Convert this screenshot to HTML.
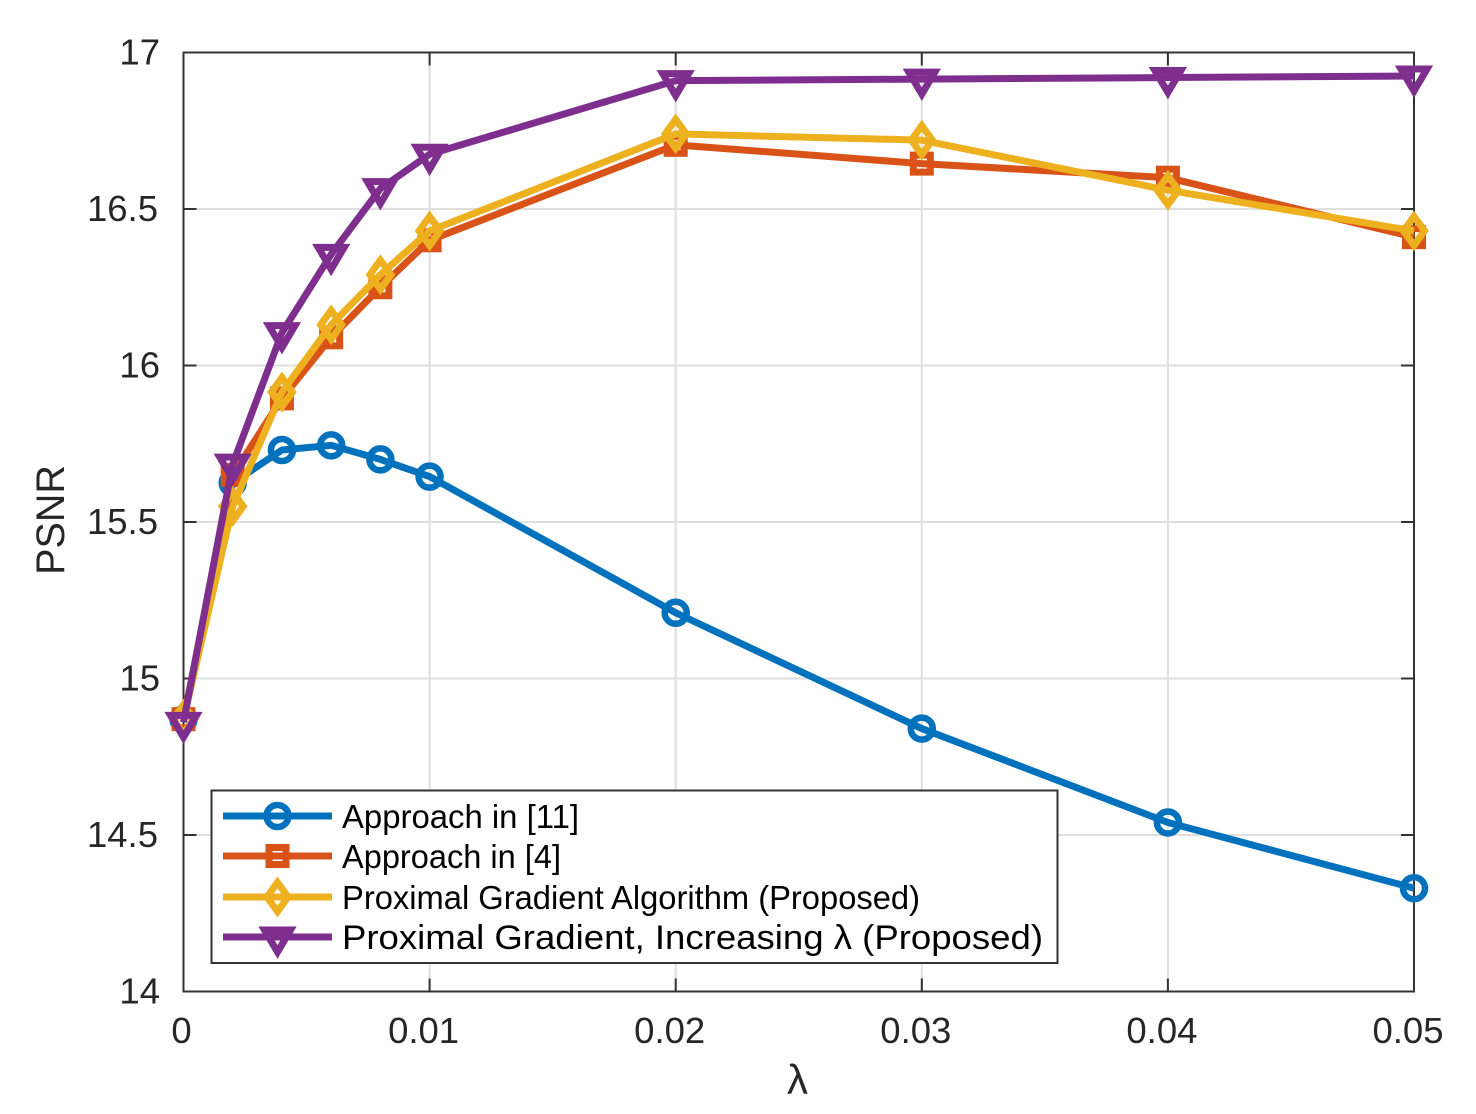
<!DOCTYPE html>
<html>
<head>
<meta charset="utf-8">
<style>
html,body{margin:0;padding:0;background:#fff;}
svg{display:block;}
text{font-family:"Liberation Sans","DejaVu Sans",sans-serif;fill:#262626;}
</style>
</head>
<body>
<svg id="chart" xmlns="http://www.w3.org/2000/svg" width="1476" height="1114" viewBox="0 0 1476 1114"></svg>
<script>
const lambdaValues = [0, 0.002, 0.004, 0.006, 0.008, 0.01, 0.02, 0.03, 0.04, 0.05];
const approach11 = [14.87, 15.625, 15.73, 15.745, 15.70, 15.645, 15.21, 14.84, 14.54, 14.33];
const approach4 = [14.87, 15.65, 15.895, 16.09, 16.25, 16.40, 16.705, 16.645, 16.60, 16.41];
const proximalGradient = [14.87, 15.55, 15.915, 16.13, 16.29, 16.43, 16.74, 16.72, 16.56, 16.43];
const proximalIncreasing = [14.86, 15.685, 16.105, 16.355, 16.565, 16.675, 16.91, 16.915, 16.92, 16.925];
const xTicks = [0, 0.01, 0.02, 0.03, 0.04, 0.05];
const yTicks = [14, 14.5, 15, 15.5, 16, 16.5, 17];
const xTickLabels = ['0', '0.01', '0.02', '0.03', '0.04', '0.05'];
const yTickLabels = ['14', '14.5', '15', '15.5', '16', '16.5', '17'];
const legendLabels = ['Approach in [11]', 'Approach in [4]', 'Proximal Gradient Algorithm (Proposed)', 'Proximal Gradient, Increasing λ (Proposed)'];

const NS = 'http://www.w3.org/2000/svg';
const svg = document.getElementById('chart');
const L = 183.5, R = 1414, T = 52.5, B = 991.5;
const xScale = v => L + (v - 0) / 0.05 * (R - L);
const yScale = v => B - (v - 14) / 3 * (B - T);

function make(tag, attrs, parent) {
  const el = document.createElementNS(NS, tag);
  for (const k in attrs) el.setAttribute(k, attrs[k]);
  (parent || svg).appendChild(el);
  return el;
}

function marker(kind, x, y, color, parent) {
  const common = {fill: 'none', stroke: color};
  let el;
  if (kind === 'circle') {
    el = make('circle', Object.assign({cx: x, cy: y, r: 11, 'stroke-width': 6.5}, common), parent);
  } else if (kind === 'square') {
    el = make('rect', Object.assign({x: x - 8.5, y: y - 8.5, width: 17, height: 17, 'stroke-width': 7}, common), parent);
  } else if (kind === 'diamond') {
    el = make('polygon', Object.assign({points: `${x},${y - 14.5} ${x + 10.5},${y} ${x},${y + 14.5} ${x - 10.5},${y}`, 'stroke-width': 7}, common), parent);
  } else {
    el = make('polygon', Object.assign({points: `${x - 13},${y - 7} ${x + 13},${y - 7} ${x},${y + 15}`, 'stroke-width': 7}, common), parent);
  }
  
  
  return el;
}

/* plot background */
const plotBg = make('rect', {x: L, y: T, width: R - L, height: B - T, fill: '#fff'});



/* grid */
const gridGroup = make('g', {stroke: '#dfdfdf', 'stroke-width': 2, fill: 'none'});


xTicks.forEach(t => {
  if (t === xTicks[0] || t === xTicks[xTicks.length - 1]) return;
  const g = make('line', {x1: xScale(t), x2: xScale(t), y1: T, y2: B}, gridGroup);
  
  
});
yTicks.forEach(t => {
  if (t === yTicks[0] || t === yTicks[yTicks.length - 1]) return;
  const g = make('line', {x1: L, x2: R, y1: yScale(t), y2: yScale(t)}, gridGroup);
  
  
});

/* axes frame and ticks */
const axesGroup = make('g', {stroke: '#333', 'stroke-width': 2, fill: 'none'});


const frame = make('rect', {x: L, y: T, width: R - L, height: B - T}, axesGroup);


xTicks.forEach(t => {
  const a = make('line', {x1: xScale(t), x2: xScale(t), y1: B, y2: B - 13}, axesGroup);
  
  
  const b = make('line', {x1: xScale(t), x2: xScale(t), y1: T, y2: T + 13}, axesGroup);
  
  
});
yTicks.forEach(t => {
  const a = make('line', {x1: L, x2: L + 13, y1: yScale(t), y2: yScale(t)}, axesGroup);
  
  
  const b = make('line', {x1: R, x2: R - 13, y1: yScale(t), y2: yScale(t)}, axesGroup);
  
  
});

/* tick labels */
xTicks.forEach((t, i) => {
  const lbl = make('text', {x: i === 0 ? xScale(t) - 2 : xScale(t) - 6, y: 1043, 'text-anchor': 'middle', 'font-size': 36.5});
  lbl.textContent = xTickLabels[i];
  
  
});
yTicks.forEach((t, i) => {
  const lbl = make('text', {x: Number.isInteger(t) ? 160 : 158, y: yScale(t) + 12, 'text-anchor': 'end', 'font-size': 36.5});
  lbl.textContent = yTickLabels[i];
  
  
});

/* axis titles */
const xTitle = make('text', {x: 797.5, y: 1094, 'text-anchor': 'middle', 'font-size': 42});
xTitle.textContent = 'λ';


const yTitle = make('text', {x: 0, y: 0, 'text-anchor': 'middle', 'font-size': 39.5, transform: 'translate(64 520) rotate(-90)'});
yTitle.textContent = 'PSNR';



/* series */
const seriesNames = ['approach-11', 'approach-4', 'proximal-gradient', 'proximal-increasing'];
const seriesValues = [approach11, approach4, proximalGradient, proximalIncreasing];
const seriesColors = ['#0072BD', '#D95319', '#EDB120', '#7E2F8E'];
const seriesMarkers = ['circle', 'square', 'diamond', 'triangle'];

seriesValues.forEach((vals, s) => {
  const g = make('g', {});
  
  
  const pts = vals.map((v, i) => xScale(lambdaValues[i]) + ',' + yScale(v)).join(' ');
  const line = make('polyline', {points: pts, fill: 'none', stroke: seriesColors[s], 'stroke-width': 7, 'stroke-linejoin': 'round'}, g);
  
  
  vals.forEach((v, i) => marker(seriesMarkers[s], xScale(lambdaValues[i]), yScale(v), seriesColors[s], g));
});

/* legend */
const legend = make('g', {});


const legendBox = make('rect', {x: 211.5, y: 790.5, width: 846, height: 172.5, fill: '#fff', stroke: '#333', 'stroke-width': 2}, legend);


const rowY = [816, 856, 897, 937];
const textWidths = [237, 219, 578, 701];
const textSizes = [33.5, 33.5, 33.5, 34.5];
legendLabels.forEach((label, i) => {
  const row = make('g', {}, legend);
  
  
  const ln = make('line', {x1: 223, x2: 332, y1: rowY[i], y2: rowY[i], stroke: seriesColors[i], 'stroke-width': 7}, row);
  
  
  marker(seriesMarkers[i], 277.5, rowY[i], seriesColors[i], row);
  const t = make('text', {x: 342, y: rowY[i] + 12, 'font-size': textSizes[i], textLength: textWidths[i], lengthAdjust: 'spacingAndGlyphs', style: 'fill:#000'}, row);
  t.textContent = label;
  
  
});
</script>
</body>
</html>
